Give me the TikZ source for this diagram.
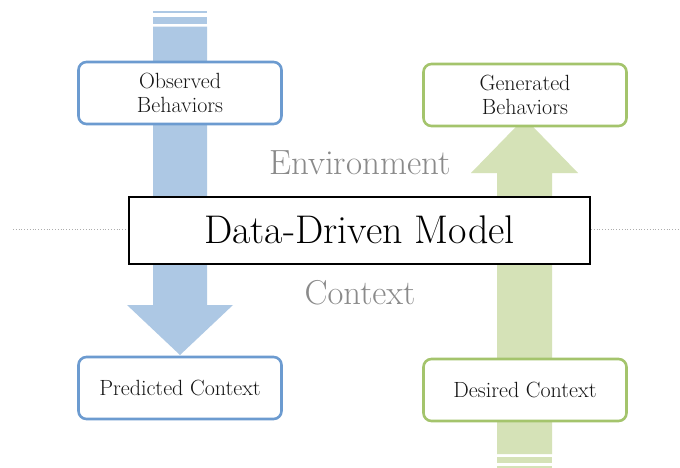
\documentclass[tikz,border=0pt]{standalone}
\definecolor{bluefill}{HTML}{ADC8E4}
\definecolor{blueline}{HTML}{6C9BD0}
\definecolor{greenfill}{HTML}{D5E2B7}
\definecolor{greenline}{HTML}{A4C46C}
\definecolor{labelgray}{HTML}{8A8A8A}
\definecolor{txt}{HTML}{151515}
\begin{document}
\begin{tikzpicture}[x=1pt,y=-1pt,
  bluebox/.style={draw=blueline,line width=2.6pt,rounded corners=8pt,fill=white,
    minimum width=203pt,minimum height=62pt,align=center,text=txt,font=\fontsize{22}{23.5}\selectfont},
  greenbox/.style={draw=greenline,line width=2.6pt,rounded corners=8pt,fill=white,
    minimum width=203pt,minimum height=62pt,align=center,text=txt,font=\fontsize{22}{23.5}\selectfont},
  envlabel/.style={text=labelgray,font=\fontsize{35}{38}\selectfont},
  ctxlabel/.style={text=labelgray,font=\fontsize{34.5}{38}\selectfont},
  modelbox/.style={draw=black,line width=2pt,fill=white,minimum width=461pt,minimum height=67pt,
    font=\fontsize{40}{43}\selectfont}]
\useasboundingbox (0,0) rectangle (680,468);
\fill[white] (0,0) rectangle (680,468);
% dotted horizon
\draw[labelgray!70,dotted,line width=0.8pt] (13,229.5) -- (128,229.5);
\draw[labelgray!70,dotted,line width=0.8pt] (591,229.5) -- (680,229.5);
% blue arrow
\fill[bluefill] (153,10.7) rectangle (207,13.3);
\fill[bluefill] (153,17.3) rectangle (207,24);
\fill[bluefill] (153,26.7) -- (207,26.7) -- (207,305) -- (233,305) -- (180,355) -- (127,305) -- (153,305) -- cycle;
% green arrow
\fill[greenfill] (497,456.7) rectangle (552,463.3);
\fill[greenfill] (497,466) rectangle (552,468);
\fill[greenfill] (497,454) -- (552,454) -- (552,173) -- (578,173) -- (524.5,118) -- (471,173) -- (497,173) -- cycle;
% nodes
\node[bluebox] (obs) at (180,93) {Observed\\Behaviors};
\node[bluebox] (pred) at (180,388) {Predicted Context};
\node[greenbox] (gen) at (525,95) {Generated\\Behaviors};
\node[greenbox] (des) at (525,390) {Desired Context};
\node[modelbox] (model) at (359.5,230) {Data-Driven Model};
\node[envlabel] (env) at (360,163) {Environment};
\node[ctxlabel] (ctx) at (360,293) {Context};
\end{tikzpicture}
\end{document}
